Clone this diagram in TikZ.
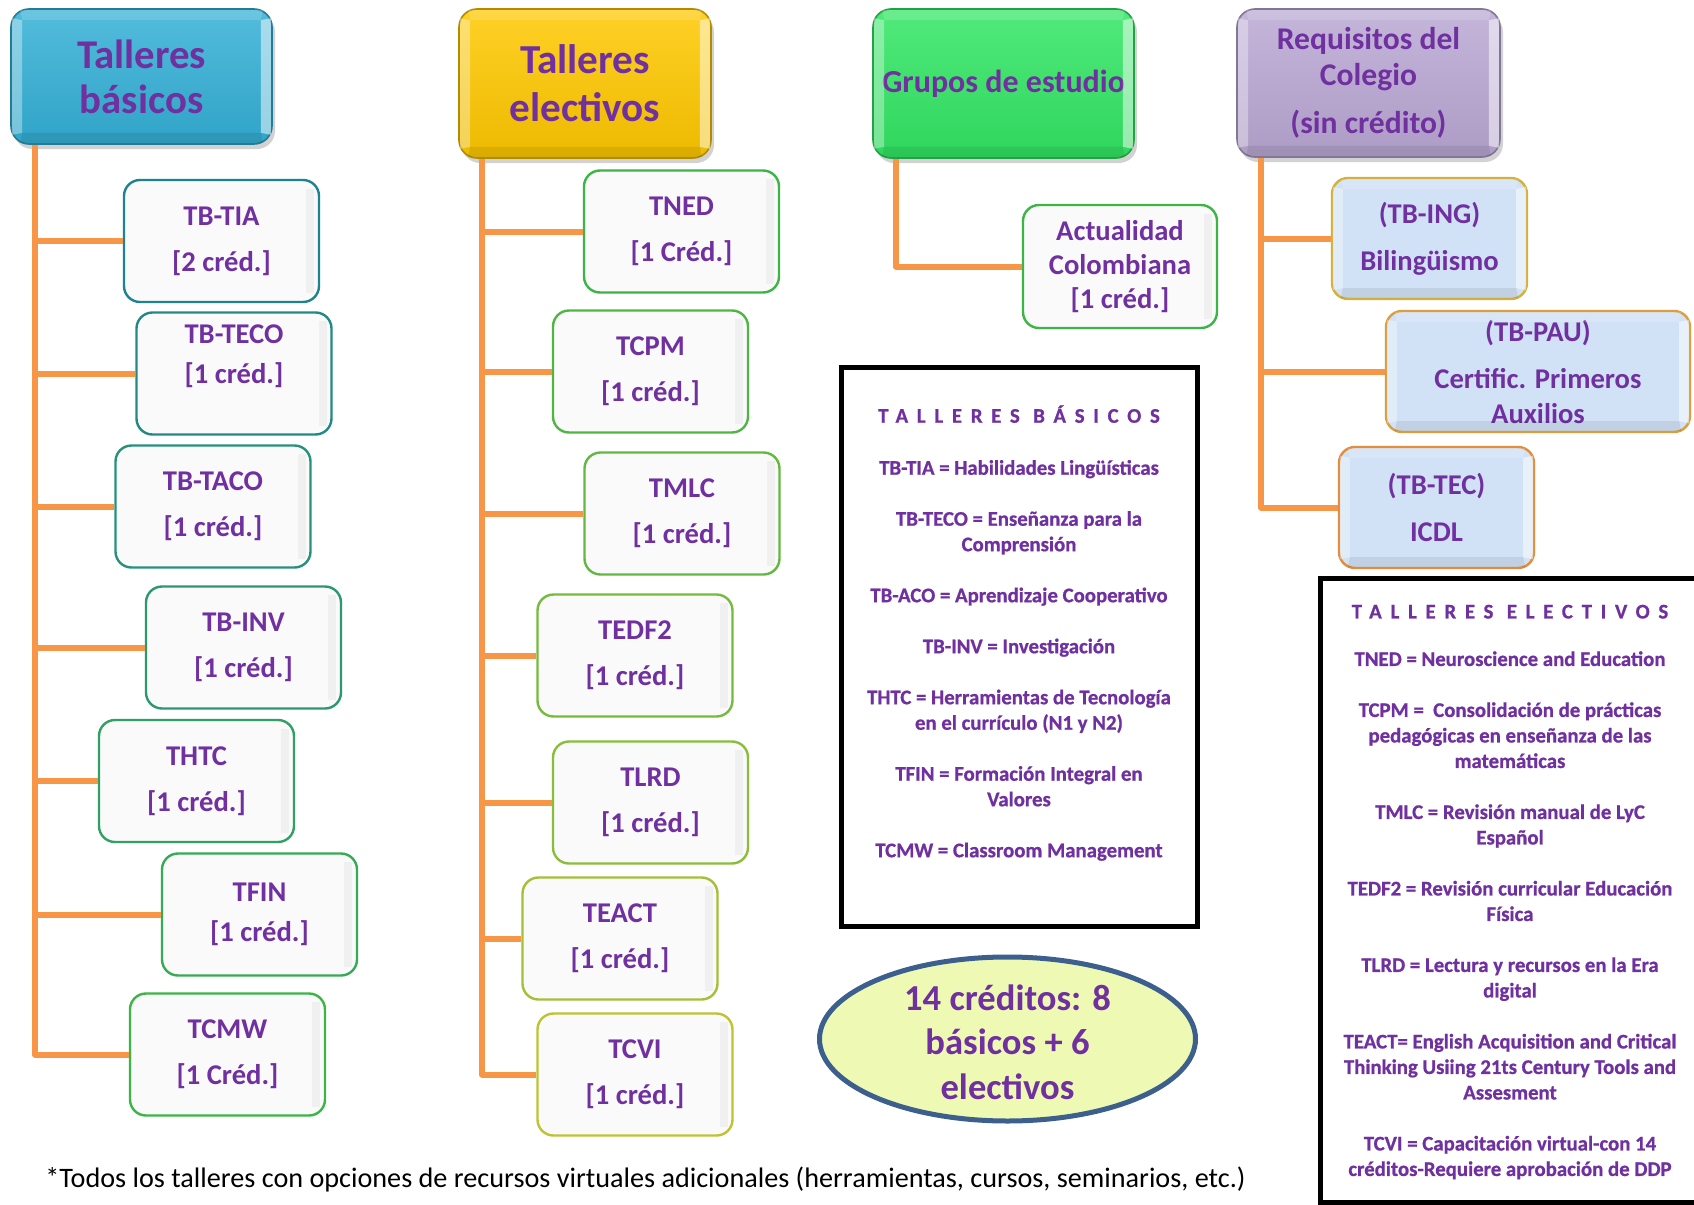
\documentclass[tikz,border=0pt]{standalone}
\usepackage{fontspec}
\setmainfont{Carlito}
\usetikzlibrary{shapes.geometric, positioning, calc, shadows}
\definecolor{morado}{RGB}{112,48,160}
\definecolor{naranja}{RGB}{247,150,70}
\definecolor{celeste}{RGB}{52,176,214}
\definecolor{dorado}{RGB}{255,200,0}
\definecolor{verdeclaro}{RGB}{50,230,100}
\definecolor{lila}{RGB}{186,168,212}
\definecolor{bordeteal}{RGB}{30,130,145}
\definecolor{bordeverde}{RGB}{60,180,70}
\definecolor{bordeoliva}{RGB}{190,195,50}
\definecolor{azulreq}{RGB}{210,226,246}
\definecolor{bordeoro}{RGB}{212,176,60}
\definecolor{bordenaranja}{RGB}{226,140,60}
\definecolor{amarillito}{RGB}{238,250,180}
\definecolor{azulelipse}{RGB}{60,95,142}

\newcommand{\corchete}[1]{[#1]}
% bisel claro de las cajas 3D
\newcommand{\bisel}[1]{%
  \fill[white,opacity=.35] ([shift={(1pt,-5pt)}]#1.north west) -- ([shift={(6pt,-6pt)}]#1.north west) -- ([shift={(6pt,6pt)}]#1.south west) -- ([shift={(1pt,5pt)}]#1.south west) -- cycle;
  \fill[white,opacity=.5] ([shift={(-1pt,-5pt)}]#1.north east) -- ([shift={(-6pt,-6pt)}]#1.north east) -- ([shift={(-6pt,6pt)}]#1.south east) -- ([shift={(-1pt,5pt)}]#1.south east) -- cycle;
  \fill[white,opacity=.15] ([shift={(5pt,-1pt)}]#1.north west) -- ([shift={(-5pt,-1pt)}]#1.north east) -- ([shift={(-6pt,-6pt)}]#1.north east) -- ([shift={(6pt,-6pt)}]#1.north west) -- cycle;
  \fill[black,opacity=.08] ([shift={(5pt,1pt)}]#1.south west) -- ([shift={(-5pt,1pt)}]#1.south east) -- ([shift={(-6pt,6pt)}]#1.south east) -- ([shift={(6pt,6pt)}]#1.south west) -- cycle;
}

\begin{document}
\begin{tikzpicture}[x=0.5pt, y=-0.5pt,
    cabecera/.style={draw=#1!70!black, line width=0.8pt, rounded corners=9pt, top color=#1!85!white, bottom color=#1!93!black, text=morado, align=center, inner sep=2pt, drop shadow={opacity=.35, shadow xshift=1.5pt, shadow yshift=-2.5pt}},
    taller/.style={draw=#1, line width=1.2pt, rounded corners=8pt, fill=black!2, minimum width=97.5pt, minimum height=61pt, inner sep=2pt, align=center, text=morado, font=\fontsize{14.3}{23}\selectfont\bfseries},
    requisito/.style={taller=#1, fill=azulreq, minimum height=60.5pt, font=\fontsize{14.3}{23.5}\selectfont\bfseries},
    conector/.style={draw=naranja, line width=3pt, line join=round},
    caja/.style={draw=black, line width=2.5pt, inner sep=0pt},
    leyenda/.style={inner sep=0pt, align=center, text=morado, font=\fontsize{10.4}{12.75}\selectfont\bfseries\addfontfeatures{FakeBold=0.8}},
    elipse/.style={ellipse, draw=azulelipse, line width=2.5pt, fill=amarillito, minimum width=188pt, minimum height=82pt, inner sep=0pt},
    nota/.style={inner sep=0pt, text=black, font=\fontsize{14.1}{16}\selectfont}]
    \useasboundingbox (0,0) rectangle (1694,1205);
    \fill[white] (0,0) rectangle (1694,1205);
    \clip (0,0) rectangle (1694,1205);

    % Cabeceras
    \node[cabecera=celeste, minimum width=130.5pt, minimum height=67.5pt, font=\fontsize{20.4}{22.5}\selectfont\bfseries] (hb) at (141.5,76.5) {Talleres\\básicos};
    \node[cabecera=dorado, minimum width=126pt, minimum height=74.5pt, font=\fontsize{20.6}{24}\selectfont\bfseries] (he) at (585,83.5) {Talleres\\electivos};
    \node[cabecera=verdeclaro, minimum width=130.5pt, minimum height=74.5pt, font=\fontsize{16}{19}\selectfont\bfseries] (hg) at (1003.5,83.5) {Grupos de estudio};
    \node[cabecera=lila, minimum width=131.5pt, minimum height=74pt, font=\fontsize{15.8}{18}\selectfont\bfseries] (hr) at (1368.5,83) {Requisitos del\\Colegio\\[6pt](sin crédito)};
    \foreach \h in {hb,he,hg,hr} {\bisel{\h}}

    % Talleres basicos
    \node[taller=bordeteal] (tia) at (221.5,241) {TB-TIA\\\corchete{2 créd.}};
    \node[taller=bordeteal!85!bordeverde] (teco) at (234,373.5) {TB-TECO\\[-3pt]\corchete{1 créd.}\\[-4pt]\mbox{}};
    \node[taller=bordeteal!70!bordeverde] (taco) at (213,506.5) {TB-TACO\\\corchete{1 créd.}};
    \node[taller=bordeteal!55!bordeverde] (inv) at (243.5,647.5) {TB-INV\\\corchete{1 créd.}};
    \node[taller=bordeteal!40!bordeverde] (thtc) at (196.5,781) {THTC\\\corchete{1 créd.}};
    \node[taller=bordeteal!20!bordeverde] (tfin) at (259.5,914.5) {TFIN\\[-3pt]\corchete{1 créd.}};
    \node[taller=bordeverde] (tcmw) at (227.5,1054.5) {TCMW\\\corchete{1 Créd.}};

    % Talleres electivos
    \node[taller=bordeverde] (tned) at (681.5,231.5) {TNED\\\corchete{1 Créd.}};
    \node[taller=bordeverde!85!bordeoliva] (tcpm) at (650.5,371.5) {TCPM\\\corchete{1 créd.}};
    \node[taller=bordeverde!70!bordeoliva] (tmlc) at (682,513.5) {TMLC\\\corchete{1 créd.}};
    \node[taller=bordeverde!55!bordeoliva] (tedf) at (635,655.5) {TEDF2\\\corchete{1 créd.}};
    \node[taller=bordeverde!40!bordeoliva] (tlrd) at (650.5,802.5) {TLRD\\\corchete{1 créd.}};
    \node[taller=bordeverde!20!bordeoliva] (teact) at (620,938.5) {TEACT\\\corchete{1 créd.}};
    \node[taller=bordeoliva] (tcvi) at (635,1074.5) {TCVI\\\corchete{1 créd.}};

    % Grupos de estudio
    \node[taller=bordeverde, minimum width=97pt, minimum height=61.5pt, font=\fontsize{14.3}{17}\selectfont\bfseries] (act) at (1120,266.5) {Actualidad\\Colombiana\\\corchete{1 créd.}};

    % Requisitos
    \node[requisito=bordeoro] (ing) at (1429.5,238.5) {(TB-ING)\\Bilingüismo};
    \node[requisito=bordeoro!50!bordenaranja, minimum width=152pt] (pau) at (1538,371.5) {(TB-PAU)\\Certific. Primeros\\[-6pt]Auxilios};
    \node[requisito=bordenaranja] (tec) at (1436.5,507.5) {(TB-TEC)\\ICDL};
    \foreach \r in {ing,pau,tec} {\bisel{\r}}
    \foreach \n in {tia,teco,taco,inv,thtc,tfin,tcmw,tned,tcpm,tmlc,tedf,tlrd,teact,tcvi,act}
        \fill[black,opacity=.04] ([shift={(-7pt,-5pt)}]\n.north east) rectangle ([shift={(-3pt,5pt)}]\n.south east);

    % Conectores
    \coordinate (raizB) at ([xshift=12.5pt]hb.south west);
    \coordinate (raizE) at ([xshift=12pt]he.south west);
    \coordinate (raizG) at ([xshift=12pt]hg.south west);
    \coordinate (raizR) at ([xshift=12.5pt]hr.south west);
    \foreach \n in {tia,teco,taco,inv,thtc,tfin,tcmw}
        \draw[conector] (raizB) |- (\n.west);
    \foreach \n in {tned,tcpm,tmlc,tedf,tlrd,teact,tcvi}
        \draw[conector] (raizE) |- (\n.west);
    \draw[conector] (raizG) |- (act.west);
    \foreach \n in {ing,pau,tec}
        \draw[conector] (raizR) |- (\n.west);

    % Leyendas
    \node[caja, minimum width=178pt, minimum height=279.5pt] (cajaB) at (1019,646.5) {};
    \node[leyenda] (leyB) at (1019,633) {{\addfontfeatures{LetterSpace=42}TALLERES BÁSICOS}\\[13.25pt]
        TB-TIA = Habilidades Lingüísticas\\[12.75pt]
        TB-TECO = Enseñanza para la\\Comprensión\\[12.75pt]
        TB-ACO = Aprendizaje Cooperativo\\[12.75pt]
        TB-INV = Investigación\\[12.75pt]
        THTC = Herramientas de Tecnología\\en el currículo (N1 y N2)\\[12.75pt]
        TFIN = Formación Integral en\\Valores\\[12.75pt]
        TCMW = Classroom Management};
    \node[caja, minimum width=192.5pt, minimum height=312pt] (cajaE) at (1512.5,890) {};
    \node[leyenda] (leyE) at (1510,892) {{\addfontfeatures{LetterSpace=42}TALLERES ELECTIVOS}\\[11pt]
        TNED = Neuroscience and Education\\[12.75pt]
        TCPM =\ \ Consolidación de prácticas\\pedagógicas en enseñanza de las\\matemáticas\\[12.75pt]
        TMLC = Revisión manual de LyC\\Español\\[12.75pt]
        TEDF2 = Revisión curricular Educación\\Física\\[12.75pt]
        TLRD = Lectura y recursos en la Era\\digital\\[12.75pt]
        TEACT= English Acquisition and Critical\\Thinking Usiing 21ts Century Tools and\\Assesment\\[12.75pt]
        TCVI = Capacitación virtual-con 14\\créditos-Requiere aprobación de DDP};

    % Resumen de creditos
    \node[elipse] (resumen) at (1007.5,1039) {};
    \node[text=morado, align=center, inner sep=0pt, font=\fontsize{18.3}{22.2}\selectfont\bfseries] (resumenTxt) at ([yshift=-1.5pt]resumen.center) {14 créditos: 8\\básicos + 6\\electivos};

    \node[nota, anchor=base west] (nota) at (45,1187) {*Todos los talleres con opciones de recursos virtuales adicionales (herramientas, cursos, seminarios, etc.)};
\end{tikzpicture}
\end{document}
